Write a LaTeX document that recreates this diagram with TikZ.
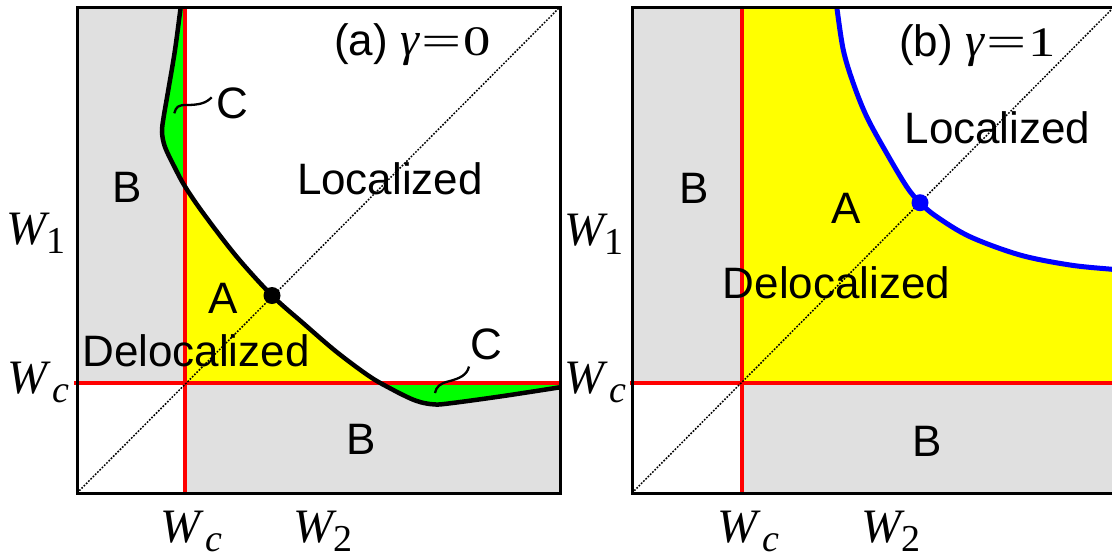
\documentclass[tikz,border=0pt]{standalone}
\usepackage{fontspec}
\usepackage{graphicx}
\setmainfont{Liberation Sans}
\newfontfamily\serifLS{Liberation Serif}
\definecolor{bgray}{HTML}{E0E0E0}
\definecolor{byellow}{HTML}{FFFF00}
\definecolor{bgreen}{HTML}{00FF00}
\newcommand\Wsub[1]{{\serifLS\fontsize{48}{48}\selectfont\itshape W}\raisebox{-9pt}{\serifLS\fontsize{38}{38}\selectfont #1}}
\newcommand\gameq[1]{{\serifLS\fontsize{48}{48}\selectfont\itshape γ}\kern2pt{\serifLS\fontsize{42}{42}\selectfont\scalebox{1.7}[1]{=}\kern2pt\scalebox{1.3}[1]{#1}}}
\def\pathA{plot[smooth,tension=0.55] coordinates {(181.6,0) (180.7,7) (175,50) (168.3,90) (163.5,118) (162,132) (165,147) (175,168) (185,186.5) (203.3,213.3) (236.7,256.7) (272,295.5) (303.3,323.3) (336.7,352) (370,376.7) (393.3,390) (410,398.3) (421,402.3) (433,404.3) (446,403.8) (500,396.5) (560,387.3) (565,386.6)}}
\def\pathB{plot[smooth,tension=0.55] coordinates {(835.7,0) (836.7,6.7) (843.3,50) (853.3,83.3) (866.7,116.7) (886.7,153.3) (906.7,186.7) (920,202.7) (936.7,216.7) (970,236.7) (1020,255) (1070,265) (1112,269.3) (1120,270)}}
\begin{document}
\begin{tikzpicture}[x=1pt,y=-1pt,
  lab/.style={font=\fontsize{44}{44}\selectfont, inner sep=0pt},
  wl/.style={anchor=base west, inner sep=0pt},
  redline/.style={draw=red, line width=4.5pt},
  frame/.style={draw=black, line width=3pt},
  diag/.style={line width=1.5pt, dash pattern=on 1.7pt off 1.5pt},
  bcurve/.style={line width=4.5pt},
  wave/.style={line width=2.3pt},
  dot/.style={circle, inner sep=0pt, minimum size=17pt}]
\useasboundingbox (0,0) rectangle (1112,558);
% ---------- panel (a)
\fill[bgray] (77,7) rectangle (185,383);
\fill[bgray] (185,383) rectangle (560,493);
\begin{scope}
  \clip (77,7) rectangle (185,383);
  \fill[bgreen] \pathA -- (570,380) -- (570,-5) -- cycle;
\end{scope}
\begin{scope}
  \clip (185,7) rectangle (560,383);
  \fill[byellow] \pathA -- (570,500) -- (70,500) -- (70,-5) -- cycle;
\end{scope}
\begin{scope}
  \clip (185,383) rectangle (560,493);
  \fill[bgreen] \pathA -- (570,380) -- (570,-5) -- cycle;
\end{scope}
\draw[redline] (185,7) -- (185,493);
\draw[redline] (74,383) -- (560,383);
\draw[diag] (77,493) -- (560,7);
\begin{scope}
  \clip (77,7) rectangle (560,493);
  \draw[bcurve] \pathA;
\end{scope}
\draw[frame] (77,7) rectangle (560,493);
\node[dot, fill=black] (dotA) at (272,295.5) {};
\node[wl] (titleA) at (334,55) {\fontsize{44}{44}\selectfont (a) \gameq{0}};
\node[lab] (Ba1) at (127.5,187) {B};
\node[lab] (Loca) at (390,179) {Localized};
\node[lab] (Aa) at (223.5,298) {A};
\node[lab] (Dela) at (196,351) {Delocalized};
\node[lab] (Ca1) at (232.5,103) {C};
\node[lab] (Ca2) at (486,344) {C};
\node[lab] (Ba2) at (361,439) {B};
\coordinate (wa1) at (174.3,113.3);
\coordinate (wa2) at (211.7,97.3);
\draw[wave] (wa1) .. controls (176,107) and (178,105) .. (186,105) .. controls (200,105) and (206,103) .. (wa2);
\coordinate (wb1) at (435,393);
\coordinate (wb2) at (469,366.5);
\draw[wave] (wb1) .. controls (436,387) and (440,383.5) .. (448,381.5) .. controls (460,378.5) and (467,375) .. (wb2);
% ---------- panel (b)
\fill[bgray] (632,7) rectangle (742,383);
\fill[bgray] (742,383) rectangle (1116,493);
\begin{scope}
  \clip (742,7) rectangle (1116,383);
  \fill[byellow] \pathB -- (1125,500) -- (625,500) -- (625,-5) -- cycle;
\end{scope}
\draw[redline] (742,7) -- (742,493);
\draw[redline] (630,383) -- (1116,383);
\draw[diag] (632,493) -- (1114,7);
\begin{scope}
  \clip (632,7) rectangle (1116,493);
  \draw[bcurve, blue, line width=5pt] \pathB;
\end{scope}
\draw[frame] (632,7) rectangle (1115,493);
\node[dot, fill=blue] (dotB) at (920,202.7) {};
\node[wl] (titleB) at (899,56) {\fontsize{44}{44}\selectfont (b) \gameq{1}};
\node[lab] (Bb1) at (694,188) {B};
\node[lab] (Ab) at (846,208) {A};
\node[lab] (Locb) at (997.5,128) {Localized};
\node[lab] (Delb) at (836.5,283) {Delocalized};
\node[lab] (Bb2) at (927.5,441) {B};
% ---------- axis labels
\node[wl] (W1a) at (6.6,244) {\Wsub{1}};
\node[wl] (Wca) at (7,393) {\Wsub{\kern5pt\itshape c}};
\node[wl] (W1b) at (564.6,245) {\Wsub{1}};
\node[wl] (Wcb) at (564.6,393) {\Wsub{\kern5pt\itshape c}};
\node[wl] (Wcxa) at (160,542) {\Wsub{\kern5pt\itshape c}};
\node[wl] (W2a) at (293.3,542) {\Wsub{2}};
\node[wl] (Wcxb) at (717.3,542) {\Wsub{\kern5pt\itshape c}};
\node[wl] (W2b) at (861.6,542) {\Wsub{2}};
\end{tikzpicture}
\end{document}
